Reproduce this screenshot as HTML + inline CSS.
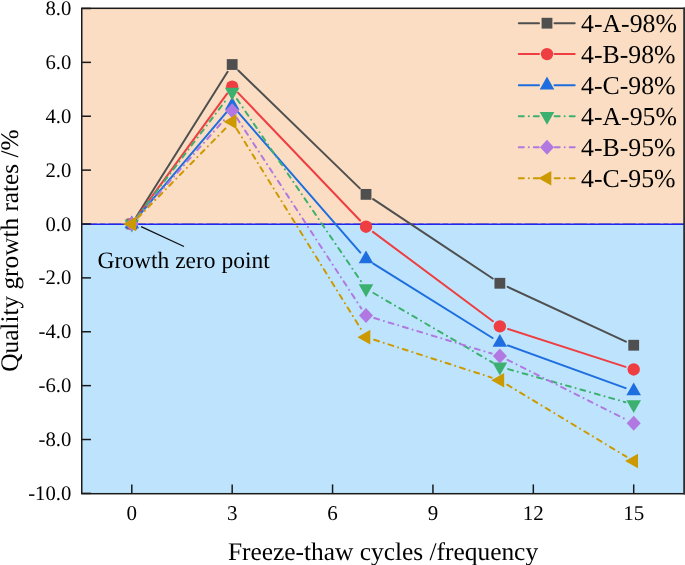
<!DOCTYPE html><html><head><meta charset="utf-8"><style>html,body{margin:0;padding:0;background:#fff;}svg{display:block;will-change:transform;}text{font-family:"Liberation Serif",serif;fill:#000;text-rendering:geometricPrecision;}</style></head><body>
<svg width="685" height="565" viewBox="0 0 685 565">
<rect x="81.75" y="8.3" width="602.50" height="215.70" fill="#FADDC2"/>
<rect x="81.75" y="224.00" width="602.50" height="269.70" fill="#BEE4FD"/>
<line x1="81.75" y1="224.25" x2="684.25" y2="224.25" stroke="#2424F2" stroke-width="1.3"/>
<line x1="83.75" y1="223.50" x2="684.25" y2="223.50" stroke="#2A2AA0" stroke-opacity="0.35" stroke-width="1" stroke-dasharray="13 3.2 5 3.3"/>
<line x1="141.1" y1="226.6" x2="184" y2="246.5" stroke="#111" stroke-width="1.3"/>
<text x="97.5" y="267.5" font-size="23.5">Growth zero point</text>
<path d="M136.38,216.72 L227.60,71.79 M238.35,70.50 L359.85,188.38 M373.18,199.12 L492.70,278.51 M507.66,286.88 L625.90,341.62" fill="none" stroke="#4F4F4F" stroke-width="2.0" stroke-linecap="round"/>
<rect x="126.40" y="218.60" width="10.80" height="10.80" fill="#4F4F4F"/>
<rect x="226.78" y="59.12" width="10.80" height="10.80" fill="#4F4F4F"/>
<rect x="360.62" y="188.97" width="10.80" height="10.80" fill="#4F4F4F"/>
<rect x="494.46" y="277.87" width="10.80" height="10.80" fill="#4F4F4F"/>
<rect x="628.30" y="339.83" width="10.80" height="10.80" fill="#4F4F4F"/>
<path d="M136.87,217.06 L227.11,93.55 M238.12,92.82 L360.08,220.48 M372.92,231.83 L492.96,321.24 M508.05,329.01 L625.51,366.84" fill="none" stroke="#EE3E42" stroke-width="2.0" stroke-linecap="round"/>
<circle cx="131.80" cy="224.00" r="6.20" fill="#EE3E42"/>
<circle cx="232.18" cy="86.61" r="6.20" fill="#EE3E42"/>
<circle cx="366.02" cy="226.69" r="6.20" fill="#EE3E42"/>
<circle cx="499.86" cy="326.37" r="6.20" fill="#EE3E42"/>
<circle cx="633.70" cy="369.48" r="6.20" fill="#EE3E42"/>
<path d="M137.36,217.44 L226.62,112.03 M237.83,111.95 L360.37,252.54 M373.32,263.57 L492.56,337.98 M507.95,345.47 L625.61,388.10" fill="none" stroke="#1E6EE0" stroke-width="2.0" stroke-linecap="round"/>
<polygon points="131.80,215.40 139.10,228.30 124.50,228.30" fill="#1E6EE0"/>
<polygon points="232.18,96.86 239.48,109.76 224.88,109.76" fill="#1E6EE0"/>
<polygon points="366.02,250.42 373.32,263.32 358.72,263.32" fill="#1E6EE0"/>
<polygon points="499.86,333.94 507.16,346.84 492.56,346.84" fill="#1E6EE0"/>
<polygon points="633.70,382.43 641.00,395.33 626.40,395.33" fill="#1E6EE0"/>
<path d="M137.01,217.15 L226.97,98.84 M237.02,99.10 L361.18,281.55 M373.45,292.99 L492.43,362.45 M508.14,369.11 L625.42,402.17" fill="none" stroke="#3CB06E" stroke-width="2.0" stroke-dasharray="5 5 0.01 5" stroke-linecap="round"/>
<polygon points="131.80,232.60 139.10,219.70 124.50,219.70" fill="#3CB06E"/>
<polygon points="232.18,100.59 239.48,87.69 224.88,87.69" fill="#3CB06E"/>
<polygon points="366.02,297.26 373.32,284.36 358.72,284.36" fill="#3CB06E"/>
<polygon points="499.86,375.38 507.16,362.48 492.56,362.48" fill="#3CB06E"/>
<polygon points="633.70,413.10 641.00,400.20 626.40,400.20" fill="#3CB06E"/>
<path d="M137.51,217.57 L226.47,117.29 M236.89,118.05 L361.31,308.40 M374.25,318.08 L491.63,353.52 M507.54,359.87 L626.02,419.49" fill="none" stroke="#B078E0" stroke-width="2.0" stroke-dasharray="5 5 0.01 5" stroke-linecap="round"/>
<polygon points="131.80,216.50 138.80,224.00 131.80,231.50 124.80,224.00" fill="#B078E0"/>
<polygon points="232.18,103.35 239.18,110.85 232.18,118.35 225.18,110.85" fill="#B078E0"/>
<polygon points="366.02,308.10 373.02,315.60 366.02,323.10 359.02,315.60" fill="#B078E0"/>
<polygon points="499.86,348.51 506.86,356.01 499.86,363.51 492.86,356.01" fill="#B078E0"/>
<polygon points="633.70,415.86 640.70,423.36 633.70,430.86 626.70,423.36" fill="#B078E0"/>
<path d="M137.82,217.86 L226.16,127.77 M236.72,128.93 L361.48,329.84 M374.21,339.78 L491.67,377.62 M507.22,384.70 L626.34,456.63" fill="none" stroke="#CC9900" stroke-width="2.0" stroke-dasharray="5 5 0.01 5" stroke-linecap="round"/>
<polygon points="123.20,224.00 136.10,231.30 136.10,216.70" fill="#CC9900"/>
<polygon points="223.58,121.63 236.48,128.93 236.48,114.33" fill="#CC9900"/>
<polygon points="357.42,337.15 370.32,344.45 370.32,329.85" fill="#CC9900"/>
<polygon points="491.26,380.25 504.16,387.55 504.16,372.95" fill="#CC9900"/>
<polygon points="625.10,461.07 638.00,468.37 638.00,453.77" fill="#CC9900"/>
<path d="M518.8,23.2 L539.0,23.2 M574.7,23.2 L554.5,23.2" stroke="#4F4F4F" stroke-width="2.0" stroke-linecap="round" fill="none"/>
<rect x="541.60" y="17.80" width="10.80" height="10.80" fill="#4F4F4F"/>
<text x="581" y="32.00" font-size="25.8">4-A-98%</text>
<path d="M518.8,54.1 L539.0,54.1 M574.7,54.1 L554.5,54.1" stroke="#EE3E42" stroke-width="2.0" stroke-linecap="round" fill="none"/>
<circle cx="547.00" cy="54.10" r="6.20" fill="#EE3E42"/>
<text x="581" y="62.90" font-size="25.8">4-B-98%</text>
<path d="M518.8,85.2 L539.0,85.2 M574.7,85.2 L554.5,85.2" stroke="#1E6EE0" stroke-width="2.0" stroke-linecap="round" fill="none"/>
<polygon points="547.00,76.60 554.30,89.50 539.70,89.50" fill="#1E6EE0"/>
<text x="581" y="94.00" font-size="25.8">4-C-98%</text>
<path d="M518.8,116.2 L539.0,116.2 M574.7,116.2 L554.5,116.2" stroke="#3CB06E" stroke-width="2.0" stroke-dasharray="5 5 0.01 5" stroke-linecap="round" fill="none"/>
<polygon points="547.00,124.80 554.30,111.90 539.70,111.90" fill="#3CB06E"/>
<text x="581" y="125.00" font-size="25.8">4-A-95%</text>
<path d="M518.8,147.3 L539.0,147.3 M574.7,147.3 L554.5,147.3" stroke="#B078E0" stroke-width="2.0" stroke-dasharray="5 5 0.01 5" stroke-linecap="round" fill="none"/>
<polygon points="547.00,139.80 554.00,147.30 547.00,154.80 540.00,147.30" fill="#B078E0"/>
<text x="581" y="156.10" font-size="25.8">4-B-95%</text>
<path d="M518.8,178.2 L539.0,178.2 M574.7,178.2 L554.5,178.2" stroke="#CC9900" stroke-width="2.0" stroke-dasharray="5 5 0.01 5" stroke-linecap="round" fill="none"/>
<polygon points="538.40,178.20 551.30,185.50 551.30,170.90" fill="#CC9900"/>
<text x="581" y="187.00" font-size="25.8">4-C-95%</text>
<rect x="81.75" y="8.3" width="602.50" height="485.40" fill="none" stroke="#1a1a1a" stroke-width="1.5"/>
<line x1="684.25" y1="7.550000000000001" x2="684.25" y2="494.45" stroke="#2C2E31" stroke-width="1.5"/>
<line x1="81.75" y1="493.40" x2="90.95" y2="493.40" stroke="#1a1a1a" stroke-width="1.5"/>
<text x="71.3" y="499.90" font-size="20.7" text-anchor="end">-10.0</text>
<line x1="81.75" y1="439.52" x2="90.95" y2="439.52" stroke="#1a1a1a" stroke-width="1.5"/>
<text x="71.3" y="446.02" font-size="20.7" text-anchor="end">-8.0</text>
<line x1="81.75" y1="385.64" x2="90.95" y2="385.64" stroke="#1a1a1a" stroke-width="1.5"/>
<text x="71.3" y="392.14" font-size="20.7" text-anchor="end">-6.0</text>
<line x1="81.75" y1="331.76" x2="90.95" y2="331.76" stroke="#1a1a1a" stroke-width="1.5"/>
<text x="71.3" y="338.26" font-size="20.7" text-anchor="end">-4.0</text>
<line x1="81.75" y1="277.88" x2="90.95" y2="277.88" stroke="#1a1a1a" stroke-width="1.5"/>
<text x="71.3" y="284.38" font-size="20.7" text-anchor="end">-2.0</text>
<line x1="81.75" y1="224.00" x2="90.95" y2="224.00" stroke="#1a1a1a" stroke-width="1.5"/>
<text x="71.3" y="230.50" font-size="20.7" text-anchor="end">0.0</text>
<line x1="81.75" y1="170.12" x2="90.95" y2="170.12" stroke="#1a1a1a" stroke-width="1.5"/>
<text x="71.3" y="176.62" font-size="20.7" text-anchor="end">2.0</text>
<line x1="81.75" y1="116.24" x2="90.95" y2="116.24" stroke="#1a1a1a" stroke-width="1.5"/>
<text x="71.3" y="122.74" font-size="20.7" text-anchor="end">4.0</text>
<line x1="81.75" y1="62.36" x2="90.95" y2="62.36" stroke="#1a1a1a" stroke-width="1.5"/>
<text x="71.3" y="68.86" font-size="20.7" text-anchor="end">6.0</text>
<line x1="81.75" y1="8.48" x2="90.95" y2="8.48" stroke="#1a1a1a" stroke-width="1.5"/>
<text x="71.3" y="14.98" font-size="20.7" text-anchor="end">8.0</text>
<line x1="131.80" y1="493.7" x2="131.80" y2="484.40" stroke="#1a1a1a" stroke-width="1.5"/>
<text x="131.80" y="519.8" font-size="21" text-anchor="middle">0</text>
<line x1="232.18" y1="493.7" x2="232.18" y2="484.40" stroke="#1a1a1a" stroke-width="1.5"/>
<text x="232.18" y="519.8" font-size="21" text-anchor="middle">3</text>
<line x1="332.56" y1="493.7" x2="332.56" y2="484.40" stroke="#1a1a1a" stroke-width="1.5"/>
<text x="332.56" y="519.8" font-size="21" text-anchor="middle">6</text>
<line x1="432.94" y1="493.7" x2="432.94" y2="484.40" stroke="#1a1a1a" stroke-width="1.5"/>
<text x="432.94" y="519.8" font-size="21" text-anchor="middle">9</text>
<line x1="533.32" y1="493.7" x2="533.32" y2="484.40" stroke="#1a1a1a" stroke-width="1.5"/>
<text x="533.32" y="519.8" font-size="21" text-anchor="middle">12</text>
<line x1="633.70" y1="493.7" x2="633.70" y2="484.40" stroke="#1a1a1a" stroke-width="1.5"/>
<text x="633.70" y="519.8" font-size="21" text-anchor="middle">15</text>
<text x="383" y="559.6" font-size="25.4" text-anchor="middle">Freeze-thaw cycles /frequency</text>
<text transform="translate(18,250.6) rotate(-90)" x="0" y="0" font-size="25.3" text-anchor="middle">Quality growth rates /%</text>
</svg></body></html>
